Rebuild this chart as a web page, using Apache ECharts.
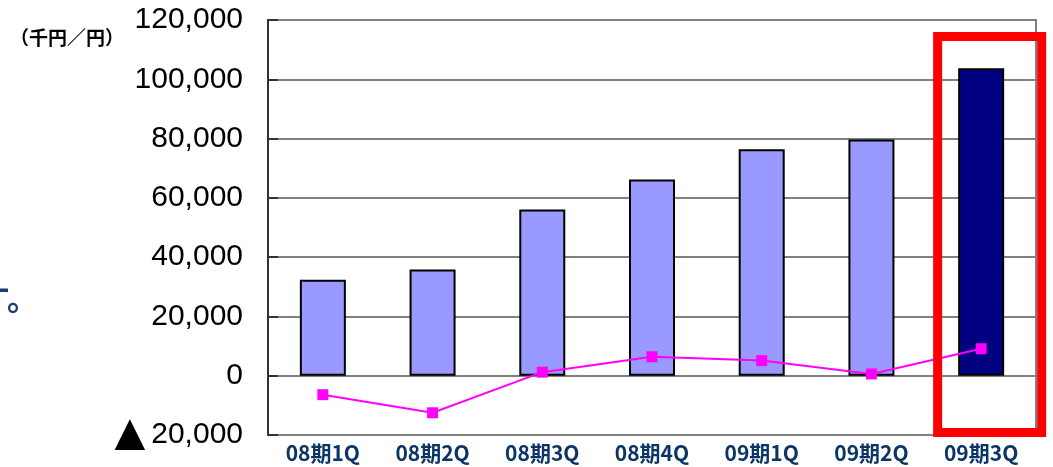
<!DOCTYPE html>
<html><head><meta charset="utf-8">
<script src="https://cdn.jsdelivr.net/npm/echarts@6/dist/echarts.min.js"></script>
<style>html,body{margin:0;padding:0;background:#fff}#c{width:1053px;height:467px}</style>
</head><body><div id="c"></div>
<script>
const categories = ['08期1Q','08期2Q','08期3Q','08期4Q','09期1Q','09期2Q','09期3Q'];
const barValues = [32400, 35800, 56100, 66200, 76400, 79700, 103700];
const lineValues = [-6400, -12500, 1200, 6400, 5100, 600, 9100];
const yTicks = [-20000, 0, 20000, 40000, 60000, 80000, 100000, 120000];
const unitLabel = '（千円／円）';
const sideText = 'す。';
const highlightIndex = 6;

const chart = echarts.init(document.getElementById('c'), null, {renderer: 'canvas'});
const fmt = v => v < 0 ? '{t|▲}{n|' + Math.abs(v).toLocaleString('en-US') + '}' : Math.abs(v).toLocaleString('en-US');
chart.setOption({
  animation: false,
  title: [
    {text: unitLabel, left: 10, top: 28, padding: 0,
     textStyle: {fontSize: 19, fontWeight: 'bold', fontFamily: 'Noto Sans CJK JP', color: '#000'}},
    {text: sideText, left: -21, top: 283, padding: 0,
     textStyle: {fontSize: 31, fontWeight: 'bold', fontFamily: 'Noto Sans CJK JP', color: '#1a3f6f'}}
  ],
  grid: {left: 268, right: 17, top: 20, bottom: 32, show: true, borderColor: '#808080', borderWidth: 2},
  xAxis: {
    type: 'category', data: categories, position: 'bottom',
    axisLine: {show: false}, axisTick: {show: false},
    axisLabel: {color: '#0b3566', fontFamily: 'Noto Sans CJK JP', fontSize: 21, fontWeight: 'bold', margin: 8}
  },
  yAxis: {
    type: 'value', min: yTicks[0], max: yTicks[yTicks.length - 1], interval: 20000,
    axisLine: {show: true, lineStyle: {color: '#333', width: 2}},
    axisTick: {show: true, inside: true, length: 10, lineStyle: {color: '#333', width: 2}},
    splitLine: {lineStyle: {color: '#808080', width: 2}},
    axisLabel: {color: '#000', fontFamily: 'Liberation Sans', fontSize: 30, margin: 25, formatter: fmt,
      rich: {t: {fontFamily: 'DejaVu Sans', fontSize: 40, color: '#000', padding: [0, 6, 0, 0]},
             n: {fontFamily: 'Liberation Sans', fontSize: 30, color: '#000'}}}
  },
  series: [
    {type: 'bar', data: barValues.map((v, i) => ({value: v, itemStyle: {color: i === highlightIndex ? '#000080' : '#9999ff'}})),
     barWidth: 46, itemStyle: {borderColor: '#000', borderWidth: 2}, z: 2},
    {type: 'line', data: lineValues, symbol: 'rect', symbolSize: 11,
     lineStyle: {color: '#ff00ff', width: 2}, itemStyle: {color: '#ff00ff'}, z: 3}
  ]
});

function drawOverlay() {
  const cx = chart.convertToPixel({xAxisIndex: 0}, categories[highlightIndex]);
  const yTop = chart.convertToPixel({yAxisIndex: 0}, yTicks[yTicks.length - 1]);
  const yBot = chart.convertToPixel({yAxisIndex: 0}, yTicks[0]);
  chart.setOption({graphic: [
    {type: 'rect', shape: {x: cx + 8.5 - 52, y: yTop + 16.5, width: 104, height: (yBot - 2.5) - (yTop + 16.5)},
     style: {fill: 'none', stroke: '#ff0000', lineWidth: 9}, z: 10}
  ]});
}
drawOverlay();
</script></body></html>
